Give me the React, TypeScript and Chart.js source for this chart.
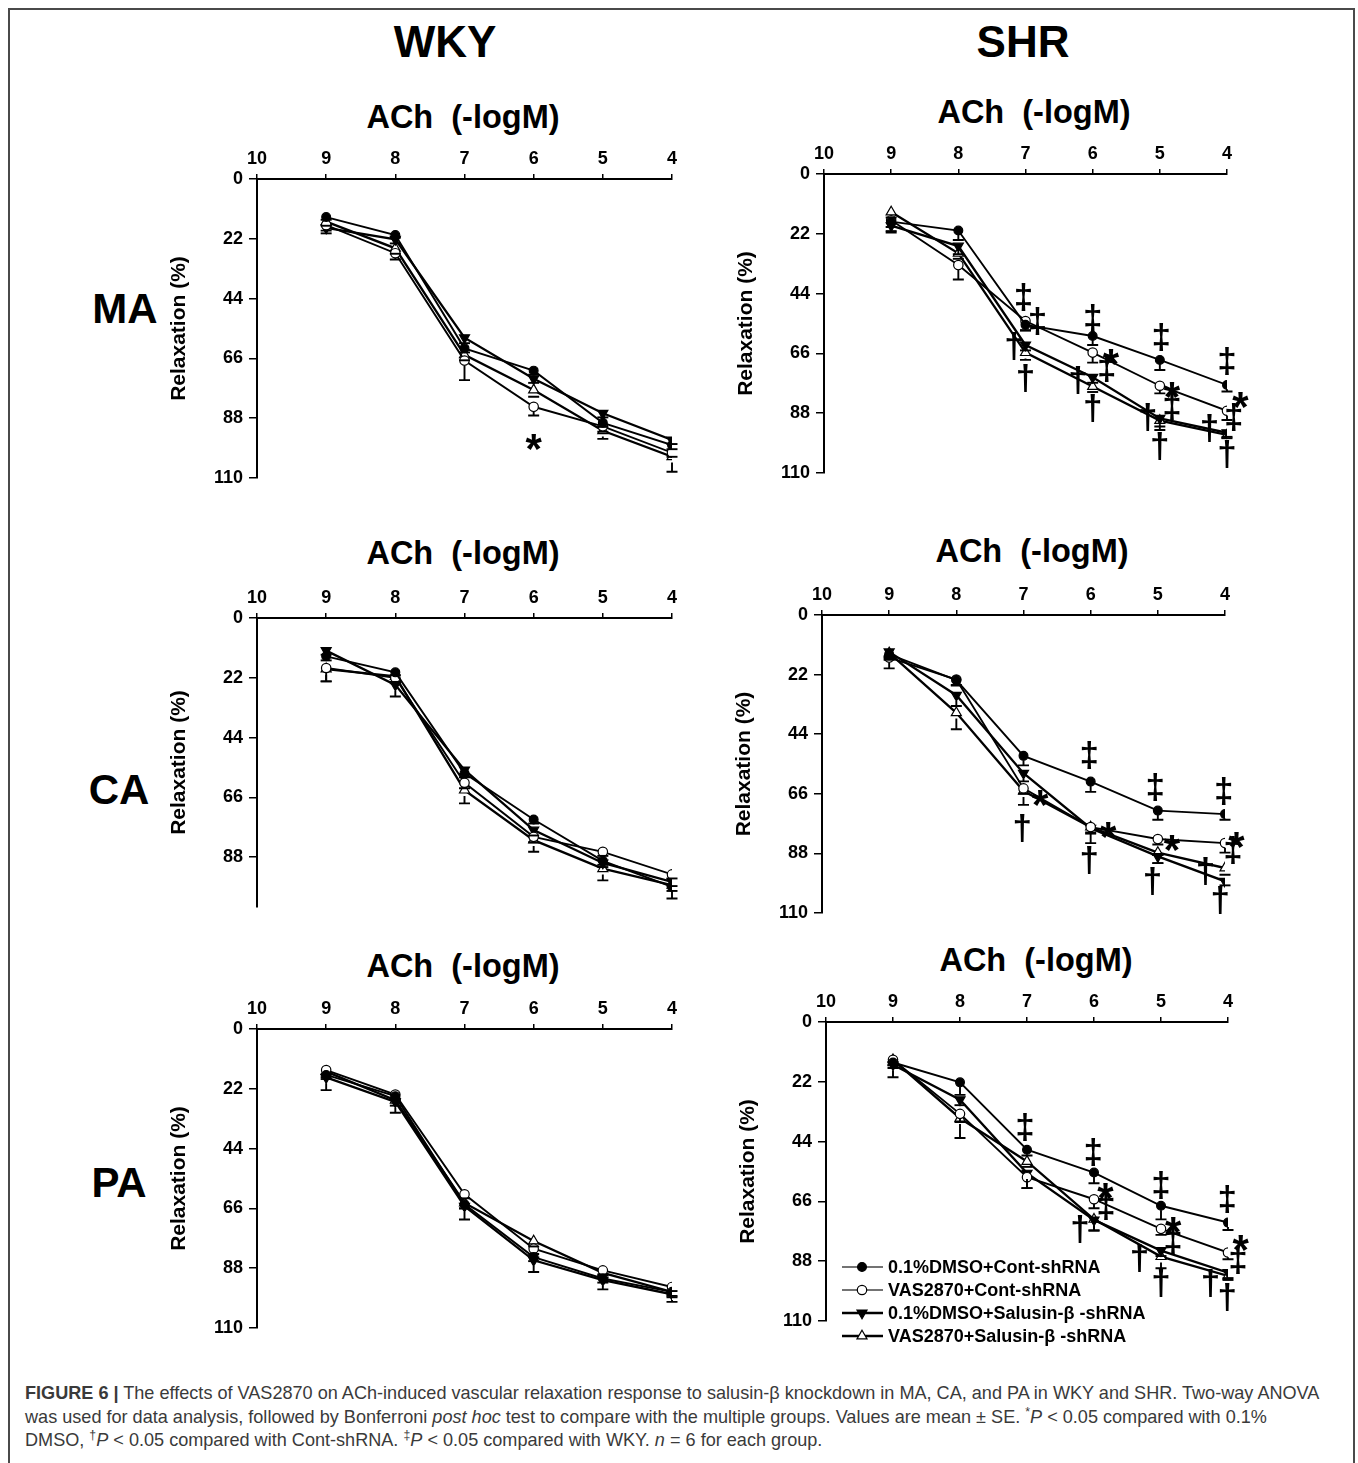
import React, { useEffect, useRef } from "react";
import { Chart, registerables } from "chart.js";

Chart.register(...registerables);
Chart.defaults.font.family = "Arial, 'Liberation Sans', Helvetica, sans-serif";

// ---------------- data ----------------
const DOSES = [9, 8, 7, 6, 5, 4]; // ACh (-logM)
const X_TICKS = [10, 9, 8, 7, 6, 5, 4];
const Y_TICKS = [0, 22, 44, 66, 88, 110];
const GROUPS = [
  "0.1%DMSO+Cont-shRNA",
  "VAS2870+Cont-shRNA",
  "0.1%DMSO+Salusin-β -shRNA",
  "VAS2870+Salusin-β -shRNA",
];

// WKY – MA
const WKY_MA_DMSO_CONT = [14, 20.6, 62.3, 70.5, 89.7, 97.9];
const WKY_MA_VAS_CONT = [17, 27.3, 66.8, 83.8, 91, 100.7];
const WKY_MA_DMSO_SAL = [18, 22.2, 58.4, 73.5, 86.2, 96];
const WKY_MA_VAS_SAL = [15.7, 25.5, 64.7, 77.6, 92.6, 102.2];
const WKY_MA_SE_DMSO_CONT = [1, 1, 1.5, 1.5, 1.5, 1.5];
const WKY_MA_SE_VAS_CONT = [2, 2.3, 7.2, 3.2, 2, 1.5];
const WKY_MA_SE_DMSO_SAL = [2, 1.5, 2, 1.5, 1.5, 1.5];
const WKY_MA_SE_VAS_SAL = [1.5, 2, 2, 2.5, 3, 5.5];
const WKY_MA_MARKS: [number, number, string][] = [[6.0, 95.4, "*"]];

// SHR – MA
const SHR_MA_DMSO_CONT = [17.5, 20.8, 55.5, 59.6, 68.4, 77.6];
const SHR_MA_VAS_CONT = [17, 33.5, 54.1, 65.7, 77.9, 87.1];
const SHR_MA_DMSO_SAL = [19, 26.5, 62.9, 74.8, 89.9, 95.2];
const SHR_MA_VAS_SAL = [14, 29.2, 65.7, 78.2, 90.7, 96];
const SHR_MA_SE_DMSO_CONT = [2, 3.5, 2, 3.3, 3.7, 2.4];
const SHR_MA_SE_VAS_CONT = [4.5, 5.3, 3.5, 3.7, 2.8, 3.4];
const SHR_MA_SE_DMSO_SAL = [2, 3, 2, 2, 3, 1.5];
const SHR_MA_SE_VAS_SAL = [2, 2, 2.7, 2, 3.5, 1.2];
const SHR_MA_MARKS: [number, number, string][] = [
  [7.03, 46.1, "‡"], [6.82, 54.9, "‡"], [7.17, 64.1, "†"], [7.0, 75.8, "†"],
  [6.0, 53.7, "‡"], [5.73, 66.2, "*"], [5.79, 72.1, "‡"], [6.22, 76.4, "†"], [6.0, 86.8, "†"],
  [4.98, 60.5, "‡"], [4.82, 78.2, "*"], [4.82, 86.2, "‡"], [5.18, 89.9, "†"], [5.0, 100.9, "†"],
  [4.0, 69.4, "‡"], [3.8, 81.9, "*"], [3.9, 89.9, "‡"], [4.26, 94.2, "†"], [4.0, 103.7, "†"],
];

// WKY – CA
const WKY_CA_DMSO_CONT = [14.1, 20, 57.1, 74.1, 89.3, 98.9];
const WKY_CA_VAS_CONT = [18.4, 22, 60.6, 80.5, 86, 94.3];
const WKY_CA_DMSO_SAL = [12, 24.6, 55.9, 78, 90.1, 97.1];
const WKY_CA_VAS_SAL = [18.8, 21.5, 63.3, 81.7, 92.2, 98.3];
const WKY_CA_SE_DMSO_CONT = [1.5, 1, 1.5, 1.5, 1.5, 1.5];
const WKY_CA_SE_VAS_CONT = [4.9, 2, 2, 2, 1.5, 1.5];
const WKY_CA_SE_DMSO_SAL = [1.5, 4.3, 1.5, 2, 1.5, 1.5];
const WKY_CA_SE_VAS_SAL = [4.5, 2, 4.9, 4.3, 4.3, 4.9];
const WKY_CA_MARKS: [number, number, string][] = [];

// SHR – CA
const SHR_CA_DMSO_CONT = [14.5, 24, 52, 61.5, 72.2, 73.5];
const SHR_CA_VAS_CONT = [15.7, 23.8, 64, 78.3, 82.7, 84.2];
const SHR_CA_DMSO_SAL = [13.6, 29.6, 58.4, 78.7, 89.1, 98.3];
const SHR_CA_VAS_SAL = [14, 36.1, 65, 78.3, 87.7, 93.4];
const SHR_CA_SE_DMSO_CONT = [2, 2, 3.5, 3.8, 3.4, 2.1];
const SHR_CA_SE_VAS_CONT = [4, 2, 2, 2, 2, 3.5];
const SHR_CA_SE_DMSO_SAL = [2, 4, 3, 2, 2.5, 1.5];
const SHR_CA_SE_VAS_SAL = [2, 6.1, 5.1, 5.9, 3.9, 2.5];
const SHR_CA_MARKS: [number, number, string][] = [
  [6.75, 66.4, "*"], [7.02, 79.3, "†"], [6.02, 52.3, "‡"], [5.74, 78.1, "*"], [6.02, 91, "†"],
  [5.04, 64.3, "‡"], [4.79, 83, "*"], [5.08, 99, "†"], [4.02, 65.6, "‡"], [3.83, 81.8, "*"],
  [3.88, 87.3, "‡"], [4.29, 95.3, "†"], [4.07, 105.7, "†"],
];

// WKY – PA
const WKY_PA_DMSO_CONT = [16.9, 24.7, 64.5, 83.9, 91.8, 96.7];
const WKY_PA_VAS_CONT = [15.1, 24.1, 60.8, 80.8, 88.8, 94.9];
const WKY_PA_DMSO_SAL = [17.8, 26.8, 65.2, 85.1, 92.4, 97.6];
const WKY_PA_VAS_SAL = [15.7, 26.2, 64, 78, 89.7, 96.7];
const WKY_PA_SE_DMSO_CONT = [1.5, 1.5, 1.5, 1.5, 1.5, 1.5];
const WKY_PA_SE_VAS_CONT = [1.5, 1.5, 1.5, 2, 1.5, 1.5];
const WKY_PA_SE_DMSO_SAL = [4.7, 4, 4.9, 4.3, 3.4, 2.8];
const WKY_PA_SE_VAS_SAL = [2, 2, 2, 2, 2, 2];
const WKY_PA_MARKS: [number, number, string][] = [];

// SHR – PA
const SHR_PA_DMSO_CONT = [14.9, 22.2, 47, 55.4, 67.6, 73.8];
const SHR_PA_VAS_CONT = [13.9, 33.8, 57.1, 65.2, 76.1, 84.8];
const SHR_PA_DMSO_SAL = [15.7, 28.6, 55.6, 72.8, 84.1, 92.2];
const SHR_PA_VAS_SAL = [13.9, 35.4, 51.3, 72.6, 86.3, 93.4];
const SHR_PA_SE_DMSO_CONT = [2, 4.6, 2.1, 3.9, 5, 2.7];
const SHR_PA_SE_VAS_CONT = [2, 3, 4, 3.3, 2.2, 2.5];
const SHR_PA_SE_DMSO_SAL = [4.6, 2, 5.5, 3.9, 2, 2];
const SHR_PA_SE_VAS_SAL = [2, 7.3, 2, 4.1, 4.3, 1.5];
const SHR_PA_MARKS: [number, number, string][] = [
  [7.03, 39.4, "‡"], [6.01, 48.6, "‡"], [5.83, 60.8, "*"], [5.82, 68.5, "‡"], [6.21, 76.7, "†"],
  [5.0, 60.5, "‡"], [4.82, 73.4, "*"], [4.82, 80.8, "‡"], [5.32, 87.5, "†"], [5.0, 96.7, "†"],
  [4.01, 65.7, "‡"], [3.81, 80.2, "*"], [3.85, 88.1, "‡"], [4.26, 96.7, "†"], [4.01, 101.7, "†"],
];

// ---------------- styling / layout ----------------
const FONT = "Arial, 'Liberation Sans', Helvetica, sans-serif";
const Y_AXIS_W = 97;
const X_AXIS_H = 40;
const PAD_R = 60;
const PAD_B = 45;

const STYLES = [
  { pointStyle: "circle", fill: "#000", rot: 0, radius: 4.4, width: 1.9, legendWidth: 1.3, legendColor: "#444" },
  { pointStyle: "circle", fill: "#fff", rot: 0, radius: 4.7, width: 1.9, legendWidth: 1.3, legendColor: "#444" },
  { pointStyle: "triangle", fill: "#000", rot: 180, radius: 5.8, width: 2.3, legendWidth: 2.4, legendColor: "#000" },
  { pointStyle: "triangle", fill: "#fff", rot: 0, radius: 5.8, width: 2.3, legendWidth: 2.4, legendColor: "#000" },
];

type PanelCfg = {
  key: string;
  L: number; T: number; R: number; B: number;
  yMax: number;
  means: number[][];
  ses: number[][];
  marks: [number, number, string][];
  legend: boolean;
};

const PANELS: PanelCfg[] = [
  {
    key: "wky-ma", L: 257, T: 179, R: 672, B: 478, yMax: 110,
    means: [WKY_MA_DMSO_CONT, WKY_MA_VAS_CONT, WKY_MA_DMSO_SAL, WKY_MA_VAS_SAL],
    ses: [WKY_MA_SE_DMSO_CONT, WKY_MA_SE_VAS_CONT, WKY_MA_SE_DMSO_SAL, WKY_MA_SE_VAS_SAL],
    marks: WKY_MA_MARKS, legend: false,
  },
  {
    key: "shr-ma", L: 824, T: 174, R: 1227, B: 473, yMax: 110,
    means: [SHR_MA_DMSO_CONT, SHR_MA_VAS_CONT, SHR_MA_DMSO_SAL, SHR_MA_VAS_SAL],
    ses: [SHR_MA_SE_DMSO_CONT, SHR_MA_SE_VAS_CONT, SHR_MA_SE_DMSO_SAL, SHR_MA_SE_VAS_SAL],
    marks: SHR_MA_MARKS, legend: false,
  },
  {
    key: "wky-ca", L: 257, T: 618, R: 672, B: 907, yMax: 106.3,
    means: [WKY_CA_DMSO_CONT, WKY_CA_VAS_CONT, WKY_CA_DMSO_SAL, WKY_CA_VAS_SAL],
    ses: [WKY_CA_SE_DMSO_CONT, WKY_CA_SE_VAS_CONT, WKY_CA_SE_DMSO_SAL, WKY_CA_SE_VAS_SAL],
    marks: WKY_CA_MARKS, legend: false,
  },
  {
    key: "shr-ca", L: 822, T: 615, R: 1225, B: 913, yMax: 110,
    means: [SHR_CA_DMSO_CONT, SHR_CA_VAS_CONT, SHR_CA_DMSO_SAL, SHR_CA_VAS_SAL],
    ses: [SHR_CA_SE_DMSO_CONT, SHR_CA_SE_VAS_CONT, SHR_CA_SE_DMSO_SAL, SHR_CA_SE_VAS_SAL],
    marks: SHR_CA_MARKS, legend: false,
  },
  {
    key: "wky-pa", L: 257, T: 1029, R: 672, B: 1328, yMax: 110,
    means: [WKY_PA_DMSO_CONT, WKY_PA_VAS_CONT, WKY_PA_DMSO_SAL, WKY_PA_VAS_SAL],
    ses: [WKY_PA_SE_DMSO_CONT, WKY_PA_SE_VAS_CONT, WKY_PA_SE_DMSO_SAL, WKY_PA_SE_VAS_SAL],
    marks: WKY_PA_MARKS, legend: false,
  },
  {
    key: "shr-pa", L: 826, T: 1022, R: 1228, B: 1321, yMax: 110,
    means: [SHR_PA_DMSO_CONT, SHR_PA_VAS_CONT, SHR_PA_DMSO_SAL, SHR_PA_VAS_SAL],
    ses: [SHR_PA_SE_DMSO_CONT, SHR_PA_SE_VAS_CONT, SHR_PA_SE_DMSO_SAL, SHR_PA_SE_VAS_SAL],
    marks: SHR_PA_MARKS, legend: true,
  },
];

// ---------------- plugins ----------------
function drawMarker(ctx: CanvasRenderingContext2D, style: string, x: number, y: number, r: number, fill: string, rotDeg: number) {
  ctx.save();
  ctx.fillStyle = fill;
  ctx.strokeStyle = "#000";
  ctx.lineWidth = 1.2;
  ctx.beginPath();
  if (style === "circle") {
    ctx.arc(x, y, r, 0, Math.PI * 2);
  } else {
    let rad = (rotDeg * Math.PI) / 180;
    ctx.moveTo(x + Math.sin(rad) * r, y - Math.cos(rad) * r);
    rad += (2 * Math.PI) / 3;
    ctx.lineTo(x + Math.sin(rad) * r, y - Math.cos(rad) * r);
    rad += (2 * Math.PI) / 3;
    ctx.lineTo(x + Math.sin(rad) * r, y - Math.cos(rad) * r);
    ctx.closePath();
  }
  ctx.fill();
  ctx.stroke();
  ctx.restore();
}

const errorBarPlugin = {
  id: "errorBars",
  afterDatasetsDraw(chart: any) {
    const { ctx } = chart;
    const xs = chart.scales.x;
    const ys = chart.scales.y;
    ctx.save();
    ctx.strokeStyle = "#000";
    ctx.lineWidth = 1.9;
    chart.data.datasets.forEach((ds: any) => {
      const se: number[] = ds.se || [];
      ds.data.forEach((p: any, i: number) => {
        const e = se[i];
        if (!e) return;
        const px = xs.getPixelForValue(p.x);
        const y0 = ys.getPixelForValue(p.y) + (ds.pointRadius || 4);
        const y1 = ys.getPixelForValue(p.y + e);
        ctx.beginPath();
        if (y1 > y0) {
          ctx.moveTo(px, y0);
          ctx.lineTo(px, y1);
        }
        ctx.moveTo(px - 5.5, y1);
        ctx.lineTo(px + 5.5, y1);
        ctx.stroke();
      });
    });
    ctx.restore();
  },
};

function makeMarksPlugin(marks: [number, number, string][]) {
  return {
    id: "sigMarks",
    afterDatasetsDraw(chart: any) {
      const { ctx } = chart;
      const xs = chart.scales.x;
      const ys = chart.scales.y;
      ctx.save();
      ctx.fillStyle = "#000";
      ctx.textAlign = "center";
      ctx.textBaseline = "alphabetic";
      marks.forEach(([x, y, t]) => {
        const px = xs.getPixelForValue(x);
        const py = ys.getPixelForValue(y);
        if (t === "*") {
          const s = 42;
          ctx.font = `bold ${s}px ${FONT}`;
          ctx.fillText(t, px, py + 0.58 * s);
        } else {
          const s = 35;
          ctx.font = `bold ${s}px ${FONT}`;
          ctx.fillText(t, px, py + 0.29 * s);
        }
      });
      ctx.restore();
    },
  };
}

function makeLegendPlugin(show: boolean) {
  return {
    id: "figLegend",
    afterDraw(chart: any) {
      if (!show) return;
      const { ctx, chartArea } = chart;
      const rows = [245, 268, 291, 314];
      ctx.save();
      GROUPS.forEach((name, i) => {
        const st = STYLES[i];
        const y = chartArea.top + rows[i];
        const x0 = chartArea.left + 16;
        const x1 = chartArea.left + 57;
        ctx.strokeStyle = st.legendColor;
        ctx.lineWidth = st.legendWidth;
        ctx.beginPath();
        ctx.moveTo(x0, y);
        ctx.lineTo(x1, y);
        ctx.stroke();
        drawMarker(ctx, st.pointStyle, chartArea.left + 36, y, st.radius, st.fill, st.rot);
        ctx.fillStyle = "#000";
        ctx.font = `bold 18px ${FONT}`;
        ctx.textAlign = "left";
        ctx.textBaseline = "middle";
        ctx.fillText(name, chartArea.left + 62, y + 1);
      });
      ctx.restore();
    },
  };
}

// ---------------- components ----------------
function Panel({ cfg }: { cfg: PanelCfg }) {
  const ref = useRef<HTMLCanvasElement | null>(null);
  const W = Y_AXIS_W + (cfg.R - cfg.L) + PAD_R;
  const H = X_AXIS_H + (cfg.B - cfg.T) + PAD_B;

  useEffect(() => {
    if (!ref.current) return;
    const datasets = cfg.means.map((vals, si) => {
      const st = STYLES[si];
      return {
        label: GROUPS[si],
        data: DOSES.map((x, i) => ({ x, y: vals[i] })),
        se: cfg.ses[si],
        borderColor: "#000",
        borderWidth: st.width,
        pointStyle: st.pointStyle,
        pointRadius: st.radius,
        pointRotation: st.rot,
        pointBackgroundColor: st.fill,
        pointBorderColor: "#000",
        pointBorderWidth: 1.2,
        tension: 0,
        fill: false,
      };
    });
    const tickFont = { size: 18, weight: "bold" as const, family: FONT };
    const chart = new Chart(ref.current, {
      type: "line",
      data: { datasets: datasets as any },
      options: {
        responsive: false,
        animation: false,
        devicePixelRatio: 1,
        layout: { padding: { left: 0, top: 0, right: PAD_R, bottom: PAD_B } },
        plugins: { legend: { display: false }, tooltip: { enabled: false }, title: { display: false } },
        scales: {
          x: {
            type: "linear",
            position: "top",
            reverse: true,
            min: 4,
            max: 10,
            afterBuildTicks: (s: any) => {
              s.ticks = X_TICKS.map((v) => ({ value: v }));
            },
            afterFit: (s: any) => {
              s.height = X_AXIS_H;
            },
            ticks: { color: "#000", font: tickFont, padding: 4, maxRotation: 0, autoSkip: false },
            grid: { display: true, drawOnChartArea: false, drawTicks: true, tickLength: 5, color: "#000", lineWidth: 1.5 },
            border: { display: true, color: "#000", width: 2 },
          },
          y: {
            type: "linear",
            reverse: true,
            min: 0,
            max: cfg.yMax,
            afterBuildTicks: (s: any) => {
              s.ticks = Y_TICKS.filter((v) => v <= cfg.yMax).map((v) => ({ value: v }));
            },
            afterFit: (s: any) => {
              s.width = Y_AXIS_W;
            },
            ticks: { color: "#000", font: tickFont, padding: 6, autoSkip: false },
            grid: { display: true, drawOnChartArea: false, drawTicks: true, tickLength: 8, color: "#000", lineWidth: 1.5 },
            border: { display: true, color: "#000", width: 2 },
            title: {
              display: true,
              text: "Relaxation (%)",
              color: "#000",
              font: { size: 21, weight: "bold", family: FONT },
              padding: { top: 7, bottom: 0 },
            },
          },
        },
      } as any,
      plugins: [errorBarPlugin, makeMarksPlugin(cfg.marks), makeLegendPlugin(cfg.legend)],
    });
    return () => chart.destroy();
  }, []);

  return (
    <canvas
      ref={ref}
      width={W}
      height={H}
      style={{ position: "absolute", left: cfg.L - Y_AXIS_W, top: cfg.T - X_AXIS_H, width: W, height: H }}
    />
  );
}

function Label({ text, cx, cy, size }: { text: string; cx: number; cy: number; size: number }) {
  return (
    <div
      style={{
        position: "absolute",
        left: cx - 300,
        width: 600,
        top: cy - size / 2,
        height: size,
        lineHeight: `${size}px`,
        fontSize: size,
        fontWeight: "bold",
        fontFamily: FONT,
        textAlign: "center",
        color: "#000",
        whiteSpace: "pre",
      }}
    >
      {text}
    </div>
  );
}

const sup: React.CSSProperties = { fontSize: "0.68em", verticalAlign: "super", lineHeight: 0 };

export default function App() {
  return (
    <div style={{ position: "absolute", left: 0, top: 0, width: 1358, height: 1463, background: "#fff", overflow: "hidden" }}>
      <div
        style={{
          position: "absolute",
          left: 8,
          top: 8,
          width: 1347,
          height: 1500,
          boxSizing: "border-box",
          border: "2px solid #4a4a4a",
        }}
      />
      <Label text="WKY" cx={445} cy={42} size={44} />
      <Label text="SHR" cx={1023} cy={42} size={44} />
      <Label text="MA" cx={125} cy={309} size={42} />
      <Label text="CA" cx={119} cy={790} size={42} />
      <Label text="PA" cx={119} cy={1183} size={42} />
      <Label text="ACh  (-logM)" cx={463} cy={117} size={32.5} />
      <Label text="ACh  (-logM)" cx={1034} cy={112} size={32.5} />
      <Label text="ACh  (-logM)" cx={463} cy={553} size={32.5} />
      <Label text="ACh  (-logM)" cx={1032} cy={551} size={32.5} />
      <Label text="ACh  (-logM)" cx={463} cy={966} size={32.5} />
      <Label text="ACh  (-logM)" cx={1036} cy={960} size={32.5} />
      {PANELS.map((p) => (
        <Panel key={p.key} cfg={p} />
      ))}
      <div
        style={{
          position: "absolute",
          left: 25,
          top: 1382,
          fontFamily: "'Liberation Sans', Arial, Helvetica, sans-serif",
          fontSize: 18.1,
          lineHeight: "23.7px",
          color: "#3a3a3a",
          whiteSpace: "nowrap",
        }}
      >
        <div>
          <b>FIGURE 6 |</b> The effects of VAS2870 on ACh-induced vascular relaxation response to salusin-β knockdown in MA, CA, and PA in WKY and SHR. Two-way ANOVA
        </div>
        <div>
          was used for data analysis, followed by Bonferroni <i>post hoc</i> test to compare with the multiple groups. Values are mean ± SE. <span style={sup}>*</span>
          <i>P</i> &lt; 0.05 compared with 0.1%
        </div>
        <div>
          DMSO, <span style={sup}>†</span>
          <i>P</i> &lt; 0.05 compared with Cont-shRNA. <span style={sup}>‡</span>
          <i>P</i> &lt; 0.05 compared with WKY. <i>n</i> = 6 for each group.
        </div>
      </div>
    </div>
  );
}
